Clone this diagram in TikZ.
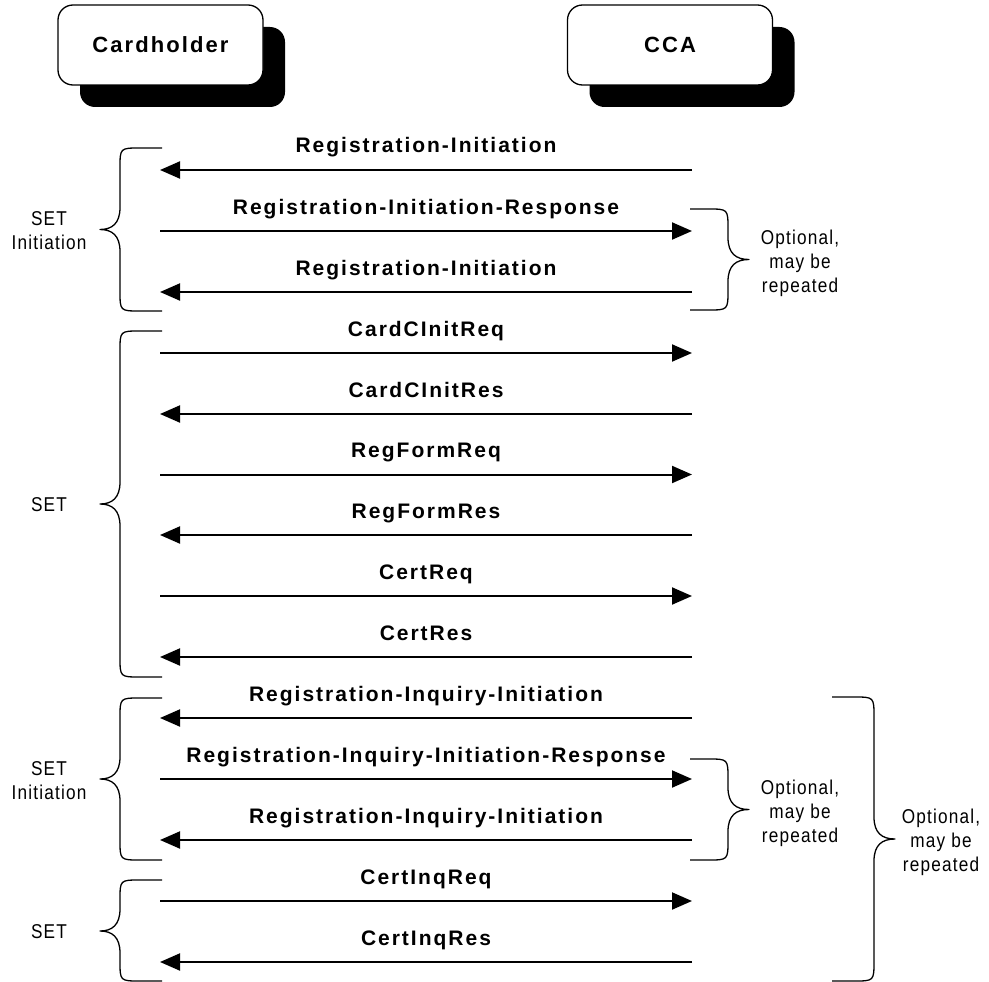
\documentclass[tikz,border=0pt]{standalone}
\usepackage{fontspec}
\setmainfont{Liberation Sans}
\newfontfamily\msgfont{Liberation Sans}[LetterSpace=9.5]
\newfontfamily\notefont{Liberation Sans}[FakeStretch=0.86,LetterSpace=6]
\usetikzlibrary{arrows.meta,shadows}

\tikzset{
  actor/.style={draw, line width=1.3pt, fill=white, rounded corners=15pt,
    minimum width=205pt, minimum height=80pt, inner sep=0pt,
    font=\msgfont\bfseries\fontsize{22}{26}\selectfont,
    drop shadow={opacity=1, fill=black, shadow xshift=22pt, shadow yshift=-22pt}},
  msg/.style={line width=2pt, -{Triangle[length=20pt,width=17pt]}},
  msglabel/.style={midway, anchor=base, yshift=17pt, inner sep=0pt,
    font=\msgfont\bfseries\fontsize{21}{25}\selectfont},
  brace/.style={line width=1.3pt, line join=round},
  note/.style={align=center, inner sep=0pt,
    font=\notefont\fontsize{20}{24}\selectfont},
}

% left-hand brace: #1 top, #2 bottom, #3 tip height
\newcommand\drawLbrace[3]{%
  \draw[brace] (162,#1) -- (140,#1) .. controls (120,#1) .. (120,{#1+20})
    -- (120,{#3-22}) .. controls (120,{#3-6}) and (112,#3) .. (100,#3)
    .. controls (112,#3) and (120,{#3+6}) .. (120,{#3+22})
    -- (120,{#2-20}) .. controls (120,#2) .. (140,#2) -- (162,#2);}
% right-hand brace: #1 open end x, #2 spine x, #3 top, #4 bottom, #5 tip height
\newcommand\drawRbrace[5]{%
  \draw[brace] (#1,#3) -- ({#2-20},#3) .. controls (#2,#3) .. (#2,{#3+20})
    -- (#2,{#5-22}) .. controls (#2,{#5-6}) and ({#2+8},#5) .. ({#2+21},#5)
    .. controls ({#2+8},#5) and (#2,{#5+6}) .. (#2,{#5+22})
    -- (#2,{#4-20}) .. controls (#2,#4) .. ({#2-20},#4) -- (#1,#4);}

\begin{document}
\begin{tikzpicture}[x=1pt, y=-1pt]
\useasboundingbox (0,0) rectangle (989,982);

% parties
\node[actor] (card) at (160.5,45) {Cardholder};
\node[actor] (cca)  at (670,45)   {CCA};

% message end points
\foreach \i/\y in {1/170,2/231,3/292,4/353,5/414,6/474.5,7/535,8/596,9/657,
                   10/718,11/779,12/840,13/901,14/962}{
  \coordinate (L\i) at (160,\y);
  \coordinate (R\i) at (692,\y);
}

% messages
\draw[msg] (R1)  -- (L1)  node[msglabel] {Registration-Initiation};
\draw[msg] (L2)  -- (R2)  node[msglabel] {Registration-Initiation-Response};
\draw[msg] (R3)  -- (L3)  node[msglabel] {Registration-Initiation};
\draw[msg] (L4)  -- (R4)  node[msglabel] {CardCInitReq};
\draw[msg] (R5)  -- (L5)  node[msglabel] {CardCInitRes};
\draw[msg] (L6)  -- (R6)  node[msglabel] {RegFormReq};
\draw[msg] (R7)  -- (L7)  node[msglabel] {RegFormRes};
\draw[msg] (L8)  -- (R8)  node[msglabel] {CertReq};
\draw[msg] (R9)  -- (L9)  node[msglabel] {CertRes};
\draw[msg] (R10) -- (L10) node[msglabel] {Registration-Inquiry-Initiation};
\draw[msg] (L11) -- (R11) node[msglabel] {Registration-Inquiry-Initiation-Response};
\draw[msg] (R12) -- (L12) node[msglabel] {Registration-Inquiry-Initiation};
\draw[msg] (L13) -- (R13) node[msglabel] {CertInqReq};
\draw[msg] (R14) -- (L14) node[msglabel] {CertInqRes};

% phase braces
\drawLbrace{148}{311}{229.5}
\drawLbrace{331}{677}{504}
\drawLbrace{698}{860}{779}
\drawLbrace{880}{981}{931}

\node[note] (ph1) at (49,231) {SET\\Initiation};
\node[note] (ph2) at (49,505) {SET};
\node[note] (ph3) at (49,781) {SET\\Initiation};
\node[note] (ph4) at (49,932) {SET};

% optional repetition braces
\drawRbrace{690}{728}{209}{310}{259.5}
\drawRbrace{690}{728}{759}{860}{809.5}
\drawRbrace{832}{874}{697}{981}{839}

\node[note] (opt1) at (800,263) {Optional,\\may be\\repeated};
\node[note] (opt2) at (800,813) {Optional,\\may be\\repeated};
\node[note] (opt3) at (941,842) {Optional,\\may be\\repeated};
\end{tikzpicture}
\end{document}
